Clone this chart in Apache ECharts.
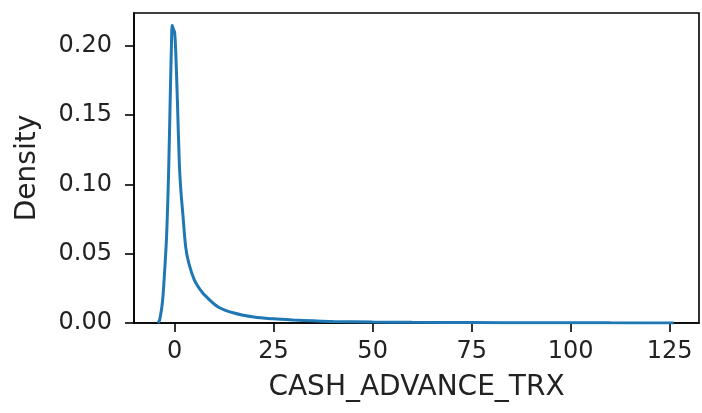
<!DOCTYPE html>
<html>
<head>
<meta charset="utf-8">
<script src="https://cdn.jsdelivr.net/npm/echarts@6/dist/echarts.min.js"></script>
<style>html,body{margin:0;padding:0;background:#fff}#c{width:702px;height:413px}</style>
</head>
<body>
<div id="c"></div>
<script>
// KDE curve: x values and density values
const xValues = [-4.2, -3.8, -3.4, -3.0, -2.5, -2.0, -1.5, -1.1, -0.8, -0.6, -0.3, 0.0, 0.3, 0.7, 1.2, 1.6, 2.1, 2.8, 3.6, 5, 6.5, 8, 11, 15, 20, 25, 30, 35, 40, 50, 60, 75, 90, 110, 126];
const densityValues = [0, 0.002, 0.008, 0.017, 0.038, 0.064, 0.110, 0.163, 0.200, 0.215, 0.212, 0.210, 0.195, 0.161, 0.115, 0.095, 0.078, 0.055, 0.043, 0.031, 0.024, 0.019, 0.0116, 0.0072, 0.0043, 0.0030, 0.0022, 0.0016, 0.0011, 0.0007, 0.0005, 0.0003, 0.0002, 0.0001, 0.00005];
const xTicks = [0, 25, 50, 75, 100, 125];
const yTicks = [0, 0.05, 0.10, 0.15, 0.20];
const xName = 'CASH_ADVANCE_TRX';
const yName = 'Density';

const chart = echarts.init(document.getElementById('c'), null, {renderer: 'canvas'});
const font = 'DejaVu Sans';
const axisCommon = {
  axisLine: {show: true, onZero: false, lineStyle: {color: '#000', width: 1.6}},
  axisTick: {show: true, length: 9, lineStyle: {color: '#000', width: 1.6}},
  splitLine: {show: false},
  nameTextStyle: {fontFamily: font, fontSize: 28, color: '#222'}
};
chart.setOption({
  animation: false,
  backgroundColor: '#fff',
  grid: {left: 134, right: 3, top: 13, bottom: 90, containLabel: false,
         show: true, borderColor: '#000', borderWidth: 1.6},
  xAxis: Object.assign({}, axisCommon, {
    type: 'value', min: -10.25, max: 132.4,
    name: xName, nameLocation: 'middle', nameGap: 51,
    axisTick: Object.assign({}, axisCommon.axisTick, {customValues: xTicks}),
    axisLabel: {customValues: xTicks, fontFamily: font, fontSize: 24, color: '#222', margin: 17}
  }),
  yAxis: Object.assign({}, axisCommon, {
    type: 'value', min: 0, max: 0.2238,
    name: yName, nameLocation: 'middle', nameGap: 92,
    axisTick: Object.assign({}, axisCommon.axisTick, {customValues: yTicks}),
    axisLabel: {customValues: yTicks, fontFamily: font, fontSize: 24, color: '#222', margin: 22,
                formatter: v => v.toFixed(2)}
  }),
  series: [{
    type: 'line', smooth: 0.3, symbol: 'none',
    lineStyle: {color: '#1f77b4', width: 3},
    data: xValues.map((x, i) => [x, densityValues[i]])
  }]
});
</script>
</body>
</html>
